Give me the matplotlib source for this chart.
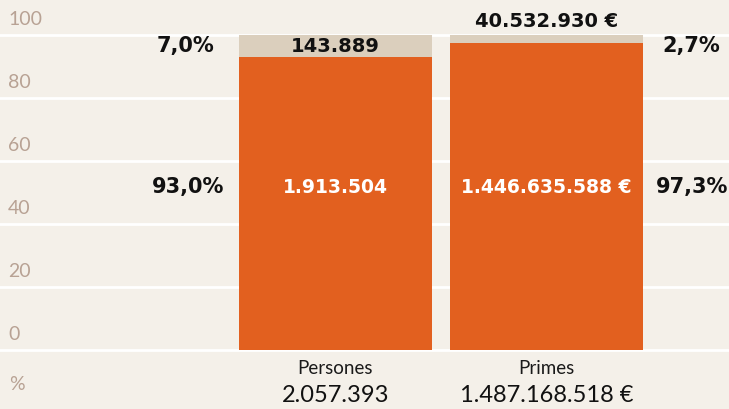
import matplotlib.pyplot as plt
import matplotlib.transforms as mtrans

plt.rcParams["font.family"] = ["Lato", "DejaVu Sans"]

categories = ["Persones", "Primes"]
totals = ["2.057.393", "1.487.168.518 €"]
main_pct = [93.0, 97.3]
rest_pct = [7.0, 2.7]
main_labels = ["1.913.504", "1.446.635.588 €"]
rest_labels = ["143.889", "40.532.930 €"]
yticks = [0, 20, 40, 60, 80, 100]

bg = "#f4f0e9"
orange = "#e2601f"
beige = "#dbcfbd"
tickcol = "#b8a294"
boldfont = "DejaVu Sans"

fig = plt.figure(figsize=(7.29, 4.09), dpi=100, facecolor=bg)
ax = fig.add_axes([0, 0, 1, 1], facecolor=bg)
ax.set_xlim(-1.590, 1.865)
ax.set_ylim(-18.73, 111.1)
for s in ax.spines.values():
    s.set_visible(False)
ax.set_xticks([])
ax.set_yticks([])

for t in yticks:
    ax.axhline(t, color="white", lw=2, zorder=1)
    ax.annotate(str(t), xy=(0.011, t), xycoords=("axes fraction", "data"),
                xytext=(0, 5), textcoords="offset points",
                ha="left", va="bottom", color=tickcol, fontsize=14)
ax.text(0.013, -11.1, "%", transform=mtrans.blended_transform_factory(ax.transAxes, ax.transData),
        ha="left", va="center", color=tickcol, fontsize=14)

x = range(len(categories))
w = 0.915
ax.bar(x, main_pct, width=w, color=orange, zorder=2)
ax.bar(x, rest_pct, bottom=main_pct, width=w, color=beige, zorder=2)

label_y = 51.7
for i in x:
    ax.text(i, label_y, main_labels[i], ha="center", va="center", color="white",
            fontsize=13.5, fontweight="bold", family=boldfont, zorder=3)
    ax.text(i, -6, categories[i], ha="center", va="center", color="#1a1a1a",
            fontsize=13.5, zorder=3)
    ax.text(i, -14.3, totals[i], ha="center", va="center", color="#111111",
            fontsize=17, zorder=3)

# small slice labels
ax.text(0, main_pct[0] + rest_pct[0] / 2 - 0.3, rest_labels[0], ha="center", va="center",
        fontsize=14, fontweight="bold", family=boldfont, color="#111111", zorder=3)
ax.text(1, 104.4, rest_labels[1], ha="center", va="center",
        fontsize=14, fontweight="bold", family=boldfont, color="#111111", zorder=3)

# percentages on the sides
def pct(v):
    return f"{v:.1f}%".replace(".", ",")

ax.text(-0.572, 96.5, pct(rest_pct[0]), ha="right", va="center",
        fontsize=15, fontweight="bold", family=boldfont, color="#111111")
ax.text(-0.529, label_y, pct(main_pct[0]), ha="right", va="center",
        fontsize=15, fontweight="bold", family=boldfont, color="#111111")
ax.text(1.547, 96.5, pct(rest_pct[1]), ha="left", va="center",
        fontsize=15, fontweight="bold", family=boldfont, color="#111111")
ax.text(1.518, label_y, pct(main_pct[1]), ha="left", va="center",
        fontsize=15, fontweight="bold", family=boldfont, color="#111111")

fig.savefig("out.png", dpi=100, facecolor=bg)
